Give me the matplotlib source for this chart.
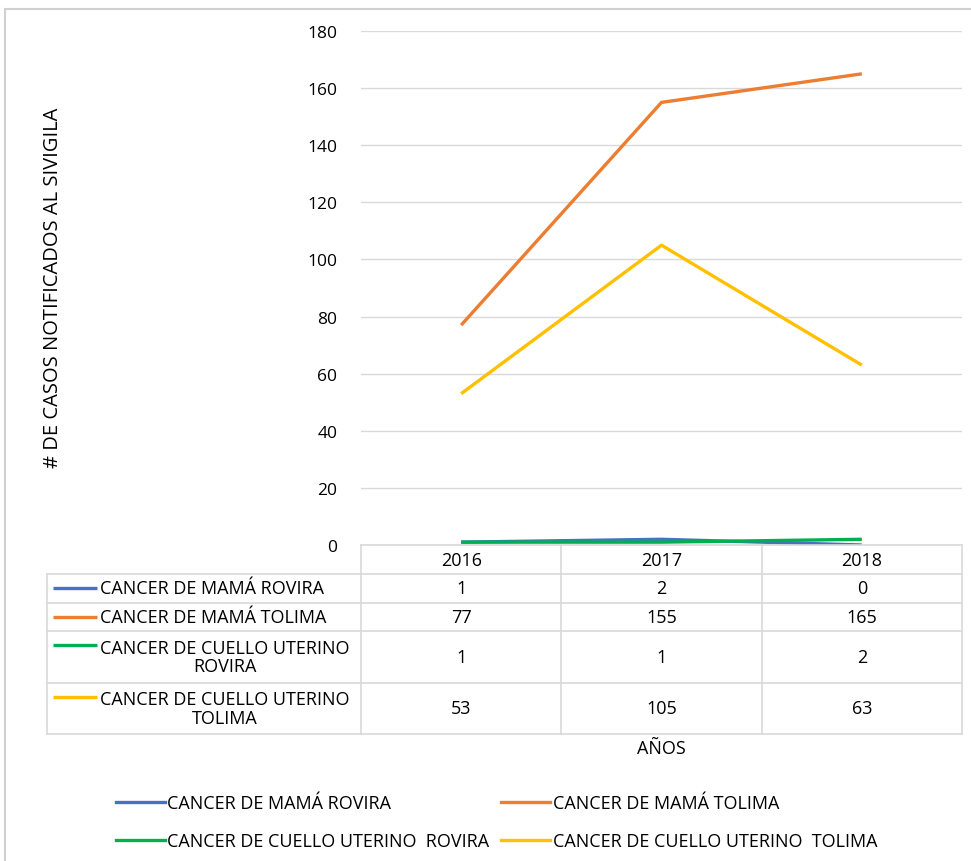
import numpy as np
import matplotlib
matplotlib.use("Agg")
import matplotlib.pyplot as plt
from matplotlib.patches import Rectangle
from matplotlib.lines import Line2D
from matplotlib.transforms import blended_transform_factory

years = ["2016", "2017", "2018"]
series_names = [
    "CANCER DE MAMÁ ROVIRA",
    "CANCER DE MAMÁ TOLIMA",
    "CANCER DE CUELLO UTERINO  ROVIRA",
    "CANCER DE CUELLO UTERINO  TOLIMA",
]
table_names = [
    "CANCER DE MAMÁ ROVIRA",
    "CANCER DE MAMÁ TOLIMA",
    "CANCER DE CUELLO UTERINO\nROVIRA",
    "CANCER DE CUELLO UTERINO\nTOLIMA",
]
mama_rovira = [1, 2, 0]
mama_tolima = [77, 155, 165]
cuello_rovira = [1, 1, 2]
cuello_tolima = [53, 105, 63]
series_values = [mama_rovira, mama_tolima, cuello_rovira, cuello_tolima]
colors = ["#4472C4", "#ED7D31", "#00B050", "#FFC000"]

W, H = 971, 862
plt.rcParams['font.family'] = ['Open Sans', 'DejaVu Sans']
fig = plt.figure(figsize=(W / 100, H / 100), dpi=100)


def fx(px):
    return px / W


def fy(py):
    return 1 - py / H


# outer chart border
fig.patches.append(Rectangle((fx(5), fy(980)), fx(1100), fy(10) - fy(980),
                             transform=fig.transFigure, fill=False,
                             edgecolor="#D0D0D0", linewidth=1.5))

left, right, top, bottom = 361, 962, 32, 546
ax = fig.add_axes([fx(left), fy(bottom), fx(right - left), fy(top) - fy(bottom)])
x = np.arange(len(years))
for vals, c in zip(series_values, colors):
    ax.plot(x, vals, color=c, linewidth=2.4, solid_capstyle="butt", zorder=3)

ax.set_xlim(-0.5, len(years) - 0.5)
ax.set_ylim(0, 180)
ax.set_yticks(np.arange(0, 181, 20))
ax.set_xticks([])
ax.grid(axis="y", color="#D9D9D9", linewidth=1)
ax.set_axisbelow(True)
for s in ax.spines.values():
    s.set_visible(False)
ax.tick_params(axis="y", length=0, pad=17, labelsize=12.5, labelcolor="#000000")

# data table below the plot
grid_c = "#D9D9D9"
tab_left = 47
row_edges = [546, 575, 604, 632, 684, 735]
xd = blended_transform_factory(ax.transData, fig.transFigure)
col_edges = np.arange(len(years) + 1) - 0.5
fs = 13

# horizontal lines
fig.add_artist(Line2D([fx(left), fx(right)], [fy(row_edges[0])] * 2,
                      color=grid_c, linewidth=1.2))
for ry in row_edges[1:]:
    fig.add_artist(Line2D([fx(tab_left), fx(right)], [fy(ry)] * 2,
                          color=grid_c, linewidth=1.2))
# vertical lines
fig.add_artist(Line2D([fx(tab_left)] * 2, [fy(row_edges[1]), fy(row_edges[-1])],
                      color=grid_c, linewidth=1.2))
for ce in col_edges:
    fig.add_artist(Line2D([ce, ce], [fy(row_edges[0]), fy(row_edges[-1])],
                          color=grid_c, linewidth=1.2, transform=xd))

# header row
hy = (row_edges[0] + row_edges[1]) / 2 + 1
for i, yr in enumerate(years):
    fig.text(i, fy(hy), yr, transform=xd, ha="center", va="center", fontsize=fs)

for r, (name, vals, c) in enumerate(zip(table_names, series_values, colors)):
    cy = (row_edges[r + 1] + row_edges[r + 2]) / 2
    top_line_y = row_edges[r + 1] + 14
    fig.add_artist(Line2D([fx(53), fx(97)], [fy(top_line_y)] * 2, color=c,
                          linewidth=2.4, solid_capstyle="butt"))
    fig.text(fx(100), fy(cy), name, ha="left", va="center", fontsize=fs,
             multialignment="center", linespacing=1.05)
    for i, v in enumerate(vals):
        fig.text(i, fy(cy), str(v), transform=xd, ha="center", va="center",
                 fontsize=fs)

fig.text(fx(661), fy(749), "AÑOS", ha="center", va="center", fontsize=fs)
fig.text(fx(53), fy(288), "# DE CASOS NOTIFICADOS AL SIVIGILA", rotation=90,
         ha="center", va="center", fontsize=14.5)

# legend (Excel order: row-wise)
order = [0, 2, 1, 3]
handles = [Line2D([], [], color=colors[k], linewidth=2.4) for k in order]
labels = [series_names[k] for k in order]
fig.legend(handles, labels, loc="upper left", bbox_to_anchor=(fx(116), fy(795)),
           ncol=2, frameon=False, fontsize=fs, handlelength=2.7,
           handletextpad=0.15, columnspacing=0.65, labelspacing=1.1,
           borderpad=0, borderaxespad=0)

fig.savefig("out.png", dpi=100)
